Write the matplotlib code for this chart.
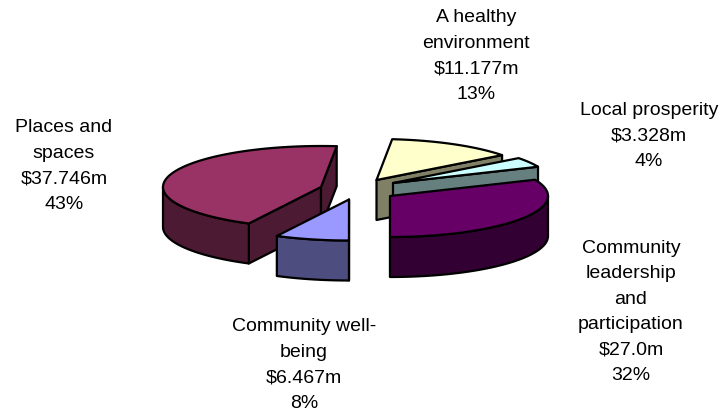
import numpy as np
import matplotlib.pyplot as plt
from matplotlib.patches import Polygon

plt.rcParams['font.family'] = ['Liberation Sans', 'DejaVu Sans']

# budget per theme in $m, clockwise from the healthy environment slice
names = ['A healthy\nenvironment', 'Local prosperity', 'Community\nleadership\nand\nparticipation',
         'Community well-\nbeing', 'Places and\nspaces']
values = [11.177, 3.328, 27.0, 6.467, 37.746]
value_labels = ['$11.177m', '$3.328m', '$27.0m', '$6.467m', '$37.746m']
percents = ['13%', '4%', '32%', '8%', '43%']
top_colors = ['#FFFFCC', '#CCFFFF', '#660066', '#9999FF', '#993366']
side_colors = ['#808066', '#668080', '#330033', '#4D4D80', '#4D1A33']

rx, ry = 158, 41	# ellipse of the pie top
depth = 40			# thickness of the pie
start = 5.7			# angle of the first slice, degrees clockwise from north
# exploded slice apex, pixels
apex = [(376.5, 180), (393, 183), (390, 196), (349, 199.5), (321, 187)]
label_pos = [(476, 56), (649, 136), (631, 312), (304, 365), (64, 166)]
draw_order = [0, 1, 2, 4, 3]

fig = plt.figure(figsize=(7.24, 4.17), dpi=100)
ax = fig.add_axes([0, 0, 1, 1])
ax.set_xlim(0, 724)
ax.set_ylim(417, 0)
ax.axis('off')

def rim(c, a, b, n=80):
	t = np.radians(np.linspace(a, b, n))
	return np.column_stack((c[0] + rx*np.sin(t), c[1] - ry*np.cos(t)))

def poly(pts, color):
	ax.add_patch(Polygon(pts, closed=True, fc=color, ec='black', lw=1.6, joinstyle='round'))

angles = start + np.concatenate(([0], np.cumsum(values))) / sum(values) * 360

for i in draw_order:
	c = np.array(apex[i], dtype=float)
	a, b = angles[i], angles[i+1]
	down = np.array([0, depth])
	# cut faces, drawn only when they turn towards the viewer
	for edge, visible in ((a, 180 < a < 360), (b, 0 < b % 360 < 180)):
		if visible:
			p = rim(c, edge, edge, 1)[0]
			poly([c, p, p + down, c + down], side_colors[i])
	# outer wall, only the front half of the ellipse shows
	lo, hi = max(a, 90), min(b, 270)
	if lo < hi:
		arc = rim(c, lo, hi)
		poly(np.vstack((arc, arc[::-1] + down)), side_colors[i])
	poly(np.vstack(([c], rim(c, a, b))), top_colors[i])

for i in range(len(values)):
	txt = names[i] + '\n' + value_labels[i] + '\n' + percents[i]
	ax.text(label_pos[i][0], label_pos[i][1], txt, ha='center', va='center',
			fontsize=14, linespacing=1.656, color='black')

fig.savefig('out.png', dpi=100)
